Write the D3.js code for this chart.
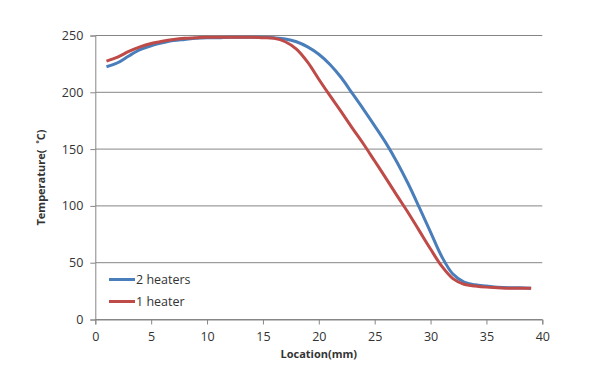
<!DOCTYPE html>
<meta charset="UTF-8">
<html>
<head>
	<script src="https://d3js.org/d3.v7.min.js"></script>
	<style>
		body { margin: 0; background: #fff; }
		text { font-family: "Open Sans", "Liberation Sans", sans-serif; fill: #333; }
	</style>
</head>
<body>
	<svg id="chart" width="589" height="371"></svg>
	<script>
		// Location (mm)
		var locations = [1,2,3,4,5,6,7,8,9,10,11,12,13,14,15,16,17,18,19,20,
			21,22,23,24,25,26,27,28,29,30,31,32,33,34,35,36,37,38,39];
		// 2 heaters
		var twoHeaters = [222.5,226,232,237.5,241,243.5,245.5,246.5,247.5,248,248,248.5,248.5,248.5,248.5,248,247,244.5,240,233.5,
			224.5,213,199,185,170.5,155.5,138.5,119.5,98.5,77,55.5,40,33,30.5,29.5,28.5,28,28,27.5];
		// 1 heater
		var oneHeater = [227.5,231,236,240,243,245,246.5,247.5,248,248.5,248.5,248.5,248.5,248.5,248,247.5,244.5,238,226.5,211.5,
			197,183,168.5,154.5,139.5,124.5,109,94,78,62,47,36,31,29.5,28.5,28,27.5,27.5,27.5];
		var xTicks = [0,5,10,15,20,25,30,35,40];
		var yTicks = [0,50,100,150,200,250];

		var svg = d3.select("#chart");
		var x = d3.scaleLinear().domain([0,40]).range([95.3,542.3]);
		var y = d3.scaleLinear().domain([0,250]).range([319.5,35.5]);
		var grey = "#868686";

		// horizontal gridlines
		svg.selectAll("line.grid")
			.data(yTicks)
			.enter()
			.append("line")
				.attr("x1", x(0))
				.attr("x2", x(40))
				.attr("y1", function(d){ return y(d)})
				.attr("y2", function(d){ return y(d)})
				.attr("stroke", grey)
				.attr("stroke-width", 1);

		var yAxis = svg.append("g")
			.attr("transform", "translate(" + x(0) + ",0)")
			.call(d3.axisLeft(y).tickValues(yTicks).tickSize(5).tickPadding(7));
		var xAxis = svg.append("g")
			.attr("transform", "translate(0," + y(0) + ")")
			.call(d3.axisBottom(x).tickValues(xTicks).tickSize(5).tickPadding(8));
		[xAxis, yAxis].forEach(function(a){
			a.selectAll("path, line").attr("stroke", grey);
			a.selectAll("text").style("font-size", "12.5px").style("fill", "#333");
		});

		var line = d3.line()
			.x(function(d){ return x(d[0])})
			.y(function(d){ return y(d[1])})
			.curve(d3.curveCatmullRom);

		var series = [
			{name: "2 heaters", values: twoHeaters, color: "#4A7EBB"},
			{name: "1 heater", values: oneHeater, color: "#BE4B48"}
		];

		series.forEach(function(s){
			svg.append("path")
				.datum(locations.map(function(l, i){ return [l, s.values[i]]; }))
				.attr("d", line)
				.attr("fill", "none")
				.attr("stroke", s.color)
				.attr("stroke-width", 3);
		});

		// legend
		var legend = svg.selectAll("g.legend")
			.data(series)
			.enter()
			.append("g")
			.attr("transform", function(d, i){ return "translate(109," + (279.5 + i*22) + ")"; });
		legend.append("line")
			.attr("x1", 0).attr("x2", 26)
			.attr("stroke", function(d){ return d.color})
			.attr("stroke-width", 3);
		legend.append("text")
			.attr("x", 27)
			.attr("dy", "0.35em")
			.style("font-size", "12.5px")
			.text(function(d){ return d.name});

		svg.append("text")
			.attr("x", (x(0) + x(40)) / 2)
			.attr("y", 358)
			.attr("text-anchor", "middle")
			.style("font-size", "11px")
			.style("font-weight", "bold")
			.text("Location(mm)");

		svg.append("text")
			.attr("transform", "translate(45," + y(125) + ") rotate(-90)")
			.attr("text-anchor", "middle")
			.style("font-size", "11px")
			.style("font-weight", "bold")
			.text("Temperature(\u00A0\u00A0\u02DAC)");
	</script>
</body>
</html>
